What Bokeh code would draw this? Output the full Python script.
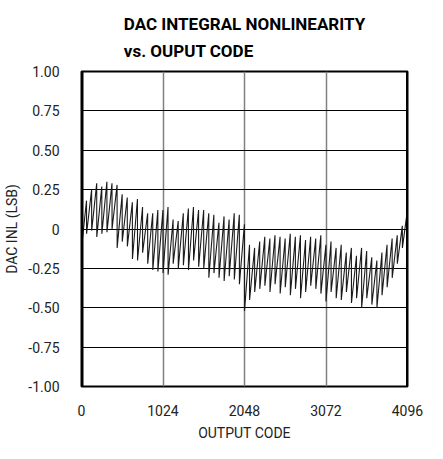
from bokeh.plotting import figure
from bokeh.models import Range1d, FixedTicker, Span, Label, ColumnDataSource
from bokeh.embed import file_html
from bokeh.resources import INLINE

# ---- data ----
tooth_codes = list(range(0, 4096, 64))
tooth_low = [-0.12, -0.03, -0.01, -0.05, -0.03, -0.02, 0.00, -0.12,
             -0.08, -0.11, -0.19, -0.20, -0.15, -0.22, -0.26, -0.27,
             -0.28, -0.29, -0.22, -0.25, -0.23, -0.26, -0.20, -0.24,
             -0.25, -0.31, -0.28, -0.31, -0.33, -0.30, -0.32, -0.35,
             -0.52, -0.45, -0.40, -0.38, -0.36, -0.40, -0.35, -0.41,
             -0.37, -0.42, -0.38, -0.44, -0.40, -0.36, -0.38, -0.41,
             -0.46, -0.40, -0.44, -0.45, -0.40, -0.47, -0.44, -0.50,
             -0.44, -0.48, -0.50, -0.42, -0.37, -0.31, -0.22, -0.12]
tooth_high = [0.18, 0.25, 0.29, 0.27, 0.30, 0.29, 0.28, 0.22,
              0.20, 0.17, 0.19, 0.14, 0.10, 0.10, 0.12, 0.12,
              0.14, 0.06, 0.05, 0.10, 0.13, 0.14, 0.12, 0.12,
              0.10, 0.09, 0.04, 0.08, 0.06, 0.10, 0.09, 0.03,
              -0.10, -0.12, -0.08, -0.05, -0.06, -0.04, -0.05, -0.06,
              -0.03, -0.05, -0.04, -0.07, -0.05, -0.06, -0.04, -0.10,
              -0.08, -0.12, -0.10, -0.15, -0.12, -0.17, -0.12, -0.14,
              -0.18, -0.20, -0.15, -0.10, -0.06, -0.04, 0.02, 0.12]
tooth_span = 63
end_code = 4095
end_value = -0.44

y_ticks = [-1.0, -0.75, -0.5, -0.25, 0, 0.25, 0.5, 0.75, 1.0]
y_tick_labels = ["-1.00", "-0.75", "-0.50", "-0.25", "0", "0.25", "0.50", "0.75", "1.00"]
x_ticks = [0, 1024, 2048, 3072, 4096]
x_grid = [1024, 2048, 3072]

xs, ys = [], []
for c, lo, hi in zip(tooth_codes, tooth_low, tooth_high):
    xs += [c, c + tooth_span]
    ys += [lo, hi]
xs.append(end_code)
ys.append(end_value)
src = ColumnDataSource(dict(x=xs, y=ys))

FONT = "Roboto"

p = figure(width=427, height=443, output_backend="svg", toolbar_location=None,
           x_range=Range1d(0, 4096), y_range=Range1d(-1, 1),
           min_border_left=81, min_border_right=20, min_border_top=63, min_border_bottom=51)

p.title.text = "DAC INTEGRAL NONLINEARITY\nvs. OUPUT CODE"
p.title.align = "center"
p.title.text_font = FONT
p.title.text_font_size = "17px"
p.title.text_font_style = "bold"
p.title.text_color = "black"
p.title.text_line_height = 1.35
p.title.standoff = 22

p.line("x", "y", source=src, line_color="#1a1a1a", line_width=1.1)

p.xaxis.ticker = FixedTicker(ticks=x_ticks)
p.yaxis.ticker = FixedTicker(ticks=y_ticks)
p.yaxis.major_label_overrides = {t: l for t, l in zip(y_ticks, y_tick_labels)}
for ax in (p.xaxis, p.yaxis):
    ax.axis_line_color = None
    ax.major_tick_line_color = None
    ax.minor_tick_line_color = None
    ax.major_label_text_font = FONT
    ax.major_label_text_font_size = "14px"
    ax.major_label_text_color = "#222222"
    ax.axis_label_text_font = FONT
    ax.axis_label_text_font_size = "14px"
    ax.axis_label_text_font_style = "normal"
    ax.axis_label_text_color = "#222222"
p.xaxis.axis_label = "OUTPUT CODE"
p.yaxis.axis_label = "DAC INL (LSB)"
p.yaxis.major_label_standoff = 16
p.xaxis.major_label_standoff = 12
p.yaxis.axis_label_standoff = 5
p.xaxis.axis_label_standoff = 6

p.ygrid.ticker = FixedTicker(ticks=y_ticks)
p.ygrid.grid_line_color = "black"
p.ygrid.grid_line_width = 1
p.xgrid.ticker = FixedTicker(ticks=x_grid)
p.xgrid.grid_line_color = "#808080"
p.xgrid.grid_line_width = 1.5

p.outline_line_color = "black"
p.outline_line_width = 2
p.add_layout(Span(location=0, dimension="height", line_color="black", line_width=4))
p.add_layout(Span(location=4096, dimension="height", line_color="black", line_width=3))

p.add_layout(Label(x=4096, y=1.0, x_offset=12, y_offset=11, angle=1.5708,
                   text="MAX11014 toc09", text_font=FONT, text_font_size="9px",
                   text_color="#333333", text_align="right", text_baseline="middle"))

open("out.html", "w").write(file_html(p, INLINE))
